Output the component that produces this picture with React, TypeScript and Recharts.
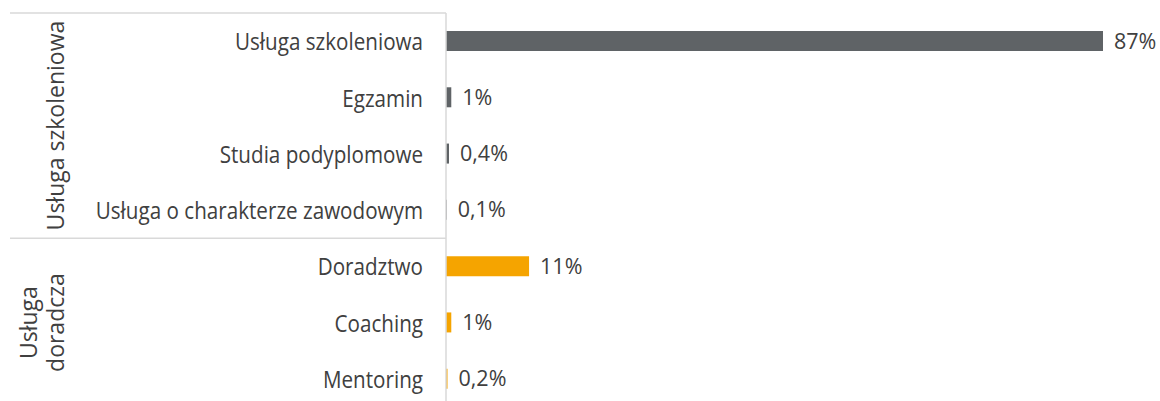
import { BarChart, Bar, XAxis, YAxis, Cell, LabelList } from "recharts";

const categories = [
  "Usługa szkoleniowa",
  "Egzamin",
  "Studia podyplomowe",
  "Usługa o charakterze zawodowym",
  "Doradztwo",
  "Coaching",
  "Mentoring",
];
const shares = [87, 0.7, 0.4, 0.1, 11, 0.7, 0.2];
const shareLabels = ["87%", "1%", "0,4%", "0,1%", "11%", "1%", "0,2%"];
const groupOf = [0, 0, 0, 0, 1, 1, 1];
const groupNames = [["Usługa szkoleniowa"], ["Usługa", "doradcza"]];
const groupColors = ["#5f6366", "#f5a400"];

const data = categories.map((name, i) => ({
  name,
  value: shares[i],
  label: shareLabels[i],
  group: groupOf[i],
}));

const W = 1160;
const H = 410;
const MARGIN = { top: 13, right: 57, bottom: 3, left: 0 };
const AXIS_W = 446;
const PLOT_H = H - MARGIN.top - MARGIN.bottom;
const LINE_X0 = 10;
const textColor = "#404040";
const lineColor = "#d9d9d9";
const font = "'Open Sans', sans-serif";

// the source font is narrower than Open Sans, so squeeze the labels a bit
function CategoryTick(props: any) {
  const { x, y, payload, index } = props;
  const half = payload?.offset || PLOT_H / categories.length / 2;
  const g = groupOf[index];
  const isFirst = index === 0 || groupOf[index - 1] !== g;
  const count = groupOf.filter((v) => v === g).length;
  const top = y - half;
  const mid = top + count * half;
  const names = groupNames[g];
  const lineGap = 27;
  return (
    <g>
      <text
        transform={`translate(${x} ${y}) scale(0.86 1)`}
        textAnchor="end"
        dominantBaseline="central"
        fontSize={24}
        fontFamily={font}
        fill={textColor}
      >
        {payload.value}
      </text>
      {isFirst && (
        <>
          <line
            x1={LINE_X0}
            x2={AXIS_W}
            y1={top}
            y2={top}
            stroke={lineColor}
            strokeWidth={1.5}
          />
          {names.map((n, k) => {
            const cx = 55 - (names.length - 1 - k) * lineGap;
            return (
              <text
                key={n}
                x={cx}
                y={mid}
                transform={`rotate(-90 ${cx} ${mid})`}
                textAnchor="middle"
                dominantBaseline="central"
                fontSize={23}
                fontFamily={font}
                fill={textColor}
              >
                {n}
              </text>
            );
          })}
        </>
      )}
    </g>
  );
}

export default function App() {
  return (
    <div
      style={{
        position: "absolute",
        left: 0,
        top: 0,
        width: W,
        height: 401,
        overflow: "hidden",
        background: "#fff",
      }}
    >
      <BarChart width={W} height={H} data={data} layout="vertical" margin={MARGIN}>
        <XAxis type="number" domain={[0, 87]} hide />
        <YAxis
          type="category"
          dataKey="name"
          width={AXIS_W}
          tickLine={false}
          tickSize={0}
          tickMargin={23}
          axisLine={{ stroke: lineColor, strokeWidth: 1.5 }}
          tick={<CategoryTick />}
          interval={0}
        />
        <Bar dataKey="value" barSize={20} isAnimationActive={false}>
          {data.map((d) => (
            <Cell key={d.name} fill={groupColors[d.group]} />
          ))}
          <LabelList
            dataKey="label"
            position="right"
            offset={11}
            fontSize={21.5}
            fontFamily={font}
            fill={textColor}
          />
        </Bar>
      </BarChart>
    </div>
  );
}
